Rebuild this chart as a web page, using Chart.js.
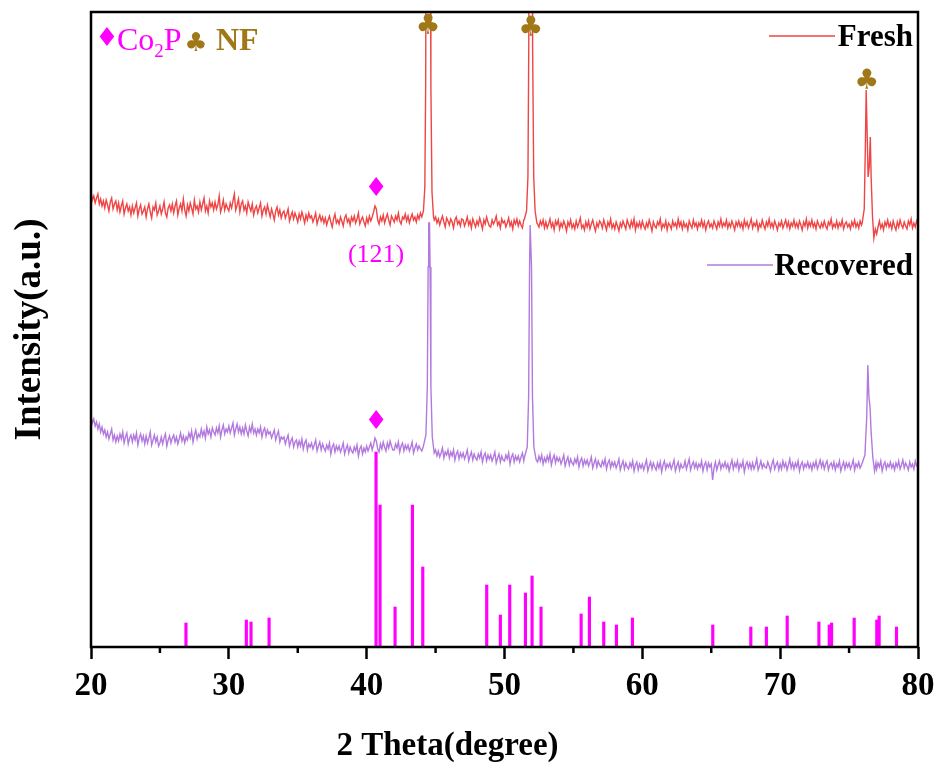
<!DOCTYPE html>
<html>
<head>
    <title>XRD Co2P</title>
    <script src="https://cdn.jsdelivr.net/npm/chart.js"></script>
    <style>
        body { margin: 0; background: #fff; }
    </style>
</head>
<body>
    <canvas id="xrd" width="941" height="767"></canvas>

    <script>
        // grid of the measured scans: 20..80 deg every 0.1 deg (one row per degree)
        var scanStart = 20;
        var scanStep = 0.1;

        var freshValues = [
            455, 447, 451, 444, 449, 453, 443, 448, 441, 446,
            439, 447, 442, 436, 445, 449, 438, 443, 446, 437,
            444, 435, 441, 446, 433, 439, 443, 436, 440, 432,
            441, 434, 439, 444, 431, 438, 442, 433, 436, 440,
            430, 438, 443, 435, 429, 440, 437, 444, 432, 436,
            441, 433, 438, 445, 434, 430, 439, 442, 436, 443,
            434, 441, 446, 432, 439, 443, 436, 448, 437, 431,
            442, 436, 444, 439, 433, 447, 438, 441, 435, 445,
            437, 443, 449, 436, 441, 434, 446, 440, 444, 437,
            445, 438, 442, 451, 435, 440, 447, 437, 443, 439,
            436, 444, 439, 446, 453, 437, 442, 448, 435, 443,
            446, 437, 441, 434, 445, 440, 436, 443, 432, 438,
            441, 434, 439, 444, 431, 437, 440, 433, 442, 436,
            430, 438, 433, 427, 436, 440, 432, 437, 429, 434,
            436, 429, 433, 438, 426, 431, 435, 428, 434, 430,
            425, 433, 428, 435, 430, 424, 432, 427, 434, 429,
            431, 425, 429, 434, 423, 428, 432, 426, 430, 424,
            429, 422, 427, 431, 425, 420, 428, 433, 424, 427,
            423, 430, 426, 421, 429, 432, 425, 428, 422, 430,
            426, 431, 424, 428, 434, 423, 427, 430, 425, 421,
            429, 424, 431, 426, 430, 435, 441, 438, 427, 423,
            430, 426, 432, 424, 429, 433, 427, 422, 431, 428,
            425, 431, 427, 434, 426, 423, 430, 428, 433, 426,
            431, 424, 429, 433, 427, 430, 425, 432, 428, 434,
            431, 433, 430, 429, 428, 430, 429, 428, 430, 427,
            430, 424, 428, 422, 427, 431, 425, 420, 429, 426,
            422, 428, 425, 419, 427, 430, 423, 426, 421, 428,
            427, 421, 425, 430, 422, 426, 419, 428, 424, 420,
            426, 422, 429, 424, 418, 427, 423, 430, 425, 421,
            420, 427, 423, 426, 431, 422, 425, 419, 428, 424,
            426, 420, 424, 429, 421, 425, 418, 427, 423, 428,
            421, 426, 422, 419, 427, 424, 428, 430, 426, 429,
            427, 425, 426, 424, 423, 420, 426, 422, 427, 419,
            425, 419, 423, 428, 420, 424, 417, 426, 422, 427,
            418, 424, 420, 426, 422, 416, 425, 421, 427, 419,
            423, 418, 426, 420, 424, 429, 419, 422, 417, 425,
            420, 426, 418, 423, 427, 421, 416, 424, 420, 426,
            424, 419, 427, 422, 417, 425, 421, 428, 419, 423,
            418, 425, 421, 416, 424, 420, 426, 422, 418, 427,
            423, 419, 426, 421, 428, 417, 424, 420, 425, 419,
            426, 421, 418, 424, 420, 427, 422, 416, 425, 421,
            419, 425, 422, 428, 418, 423, 420, 426, 417, 424,
            422, 418, 426, 421, 424, 419, 428, 421, 425, 418,
            425, 420, 423, 417, 426, 422, 419, 427, 421, 424,
            418, 424, 421, 427, 420, 425, 417, 423, 426, 420,
            423, 419, 426, 422, 418, 425, 421, 428, 420, 424,
            421, 427, 419, 424, 420, 426, 422, 417, 425, 421,
            426, 420, 424, 418, 427, 421, 425, 419, 423, 428,
            419, 424, 421, 426, 417, 423, 420, 427, 422, 418,
            425, 421, 428, 420, 424, 419, 426, 422, 417, 424,
            421, 426, 419, 423, 427, 420, 425, 418, 424, 421,
            427, 420, 424, 419, 426, 422, 417, 425, 421, 428,
            419, 425, 421, 427, 420, 424, 418, 426, 422, 419,
            424, 420, 426, 421, 418, 425, 422, 428, 419, 423,
            420, 426, 419, 424, 421, 427, 418, 423, 425, 420,
            423, 418, 425, 421, 427, 420, 424, 419, 426, 422,
            424, 425, 430, 440, 450, 460, 450, 430, 410, 418,
            413, 420, 426, 419, 423, 417, 425, 421, 427, 420,
            424, 418, 426, 421, 417, 425, 420, 427, 422, 419,
            425, 421, 418, 426, 422, 428, 419, 424, 420, 426,
            422
        ];

        var recoveredValues = [
            231, 224, 228, 221, 225, 218, 223, 215, 220, 213,
            217, 210, 215, 208, 213, 218, 207, 212, 205, 211,
            206, 213, 208, 215, 204, 210, 214, 203, 209, 212,
            205, 212, 207, 214, 202, 209, 213, 206, 211, 203,
            211, 204, 209, 215, 202, 207, 212, 205, 210, 201,
            204, 210, 203, 209, 213, 201, 207, 211, 204, 209,
            212, 205, 210, 203, 208, 214, 206, 211, 204, 210,
            207, 214, 209, 216, 205, 212, 217, 208, 213, 210,
            218, 211, 216, 209, 220, 213, 217, 210, 219, 215,
            212, 219, 214, 221, 210, 217, 222, 213, 218, 215,
            221, 214, 219, 224, 212, 218, 223, 215, 220, 213,
            219, 213, 222, 216, 211, 220, 215, 223, 214, 218,
            212, 218, 214, 220, 210, 216, 219, 211, 217, 213,
            215, 209, 213, 217, 207, 212, 216, 205, 210, 208,
            210, 203, 208, 212, 201, 206, 209, 200, 205, 207,
            200, 206, 201, 208, 198, 204, 207, 197, 203, 200,
            204, 198, 202, 207, 196, 201, 205, 197, 203, 199,
            196, 202, 198, 204, 193, 200, 203, 195, 201, 197,
            201, 195, 199, 204, 193, 198, 202, 194, 200, 196,
            194, 200, 196, 202, 191, 198, 201, 193, 199, 195,
            201, 196, 200, 204, 197, 202, 209, 206, 198, 195,
            203, 198, 205, 200, 196, 204, 199, 206, 201, 197,
            197, 203, 199, 205, 195, 201, 204, 196, 202, 198,
            202, 196, 200, 205, 194, 199, 203, 197, 201, 198,
            196, 201, 199, 200, 198, 199, 198, 199, 197, 195,
            197, 191, 196, 190, 194, 199, 189, 195, 192, 197,
            189, 195, 191, 197, 187, 193, 196, 188, 194, 190,
            194, 188, 192, 197, 186, 191, 195, 187, 193, 189,
            187, 193, 189, 195, 185, 191, 194, 186, 192, 188,
            192, 186, 190, 195, 184, 189, 193, 185, 191, 187,
            186, 192, 188, 194, 183, 190, 193, 185, 191, 187,
            191, 185, 190, 194, 186, 189, 190, 192, 195, 197,
            188, 189, 190, 188, 185, 191, 186, 192, 183, 189,
            185, 191, 186, 193, 182, 188, 192, 184, 190, 186,
            189, 183, 187, 192, 181, 186, 190, 182, 188, 184,
            182, 188, 184, 190, 180, 186, 189, 181, 187, 183,
            187, 181, 185, 190, 179, 184, 188, 180, 186, 182,
            180, 186, 182, 188, 178, 184, 187, 179, 185, 181,
            185, 179, 183, 188, 177, 182, 186, 178, 184, 180,
            178, 184, 180, 186, 176, 182, 185, 177, 183, 179,
            183, 177, 182, 187, 176, 181, 185, 178, 184, 180,
            177, 184, 179, 185, 175, 182, 186, 178, 183, 180,
            184, 178, 182, 187, 176, 181, 185, 177, 183, 179,
            180, 186, 178, 183, 188, 177, 182, 185, 179, 184,
            178, 183, 180, 186, 176, 182, 185, 177, 184, 180,
            183, 167, 179, 185, 177, 182, 186, 178, 183, 180,
            185, 179, 183, 176, 182, 187, 178, 184, 180, 186,
            177, 183, 180, 186, 175, 182, 185, 179, 184, 178,
            184, 178, 182, 188, 177, 181, 186, 179, 183, 180,
            179, 185, 181, 176, 183, 187, 178, 182, 185, 177,
            183, 178, 186, 180, 184, 177, 182, 188, 179, 184,
            178, 184, 180, 186, 176, 182, 185, 178, 183, 180,
            185, 179, 183, 177, 184, 180, 186, 178, 182, 187,
            180, 185, 178, 183, 186, 177, 182, 184, 179, 185,
            177, 183, 180, 186, 176, 181, 185, 178, 184, 180,
            184, 178, 182, 187, 177, 183, 180, 185, 179, 182,
            183, 185, 190, 200, 220, 240, 220, 200, 185, 182,
            178, 184, 180, 186, 176, 182, 185, 178, 183, 180,
            185, 179, 183, 177, 184, 180, 186, 178, 182, 187,
            179, 184, 181, 177, 185, 180, 183, 178, 186, 181,
            180
        ];

        // sharp reflections, [2theta, intensity]
        var freshPeak44 = [[44.0, 430], [44.12, 436], [44.22, 460], [44.28, 560], [44.33, 800],
                           [44.6, 800], [44.66, 560], [44.74, 455], [44.85, 430]];
        var freshPeak52 = [[51.45, 428], [51.6, 436], [51.7, 470], [51.76, 600], [51.8, 800],
                           [52.0, 800], [52.04, 600], [52.12, 470], [52.22, 436], [52.35, 424]];
        var freshPeak76 = [[75.95, 424], [76.1, 438], [76.18, 500], [76.24, 557], [76.3, 520],
                           [76.38, 470], [76.46, 480], [76.54, 510], [76.6, 470], [76.7, 430],
                           [76.8, 409], [76.9, 418]];

        var recPeak44 = [[44.1, 200], [44.3, 212], [44.4, 260], [44.46, 380], [44.5, 424],
                         [44.56, 424], [44.6, 380], [44.66, 260], [44.76, 210], [44.9, 194]];
        var recPeak52 = [[51.45, 190], [51.65, 200], [51.75, 250], [51.82, 380], [51.86, 422],
                         [51.92, 422], [51.96, 380], [52.03, 250], [52.13, 200], [52.3, 187]];
        var recPeak76 = [[75.95, 184], [76.15, 192], [76.28, 230], [76.36, 282], [76.44, 250],
                         [76.52, 240], [76.6, 215], [76.72, 190], [76.85, 176], [76.95, 184]];

        // Co2P standard card
        var cardAngles = [26.89, 31.27, 31.61, 32.92, 40.68, 40.97, 42.06, 43.32, 44.07, 48.71,
                          49.70, 50.38, 51.52, 52.00, 52.65, 55.56, 56.16, 57.20, 58.12, 59.28,
                          65.11, 67.87, 69.00, 70.51, 72.81, 73.56, 73.73, 75.37, 77.01, 77.18, 78.44];
        var cardHeights = [24, 27, 25, 29, 195, 142, 40, 142, 80, 62,
                           32, 62, 54, 71, 40, 33, 50, 25, 22, 29,
                           22, 20, 20, 31, 25, 22, 24, 29, 27, 31, 20];

        // peak markers
        var clubAngles = [44.45, 51.9, 76.29];
        var clubLevels = [620, 618, 565];
        var diamondAngles = [40.68, 40.68];
        var diamondLevels = [458, 225];
        var hklLabel = '(121)';
        var hklAngle = 40.68;
        var hklLevel = 392;

        var xTicks = [20, 30, 40, 50, 60, 70, 80];
        var minorTicks = [25, 35, 45, 55, 65, 75];

        var RED = '#ef4545';
        var PURPLE = '#b27ade';
        var MAGENTA = '#ff00ff';
        var BROWN = '#a07818';
        var SERIF = '"Liberation Serif", "Times New Roman", serif';
        var SYMBOL = '"DejaVu Sans", sans-serif';

        function buildSeries(values, peaks) {
            var pts = [];
            values.forEach(function(v, i) {
                var a = Math.round((scanStart + i * scanStep) * 100) / 100;
                var inPeak = peaks.some(function(p) {
                    return a >= p[0][0] && a <= p[p.length - 1][0];
                });
                if (!inPeak) pts.push({ x: a, y: v });
            });
            peaks.forEach(function(p) {
                p.forEach(function(q) { pts.push({ x: q[0], y: q[1] }); });
            });
            pts.sort(function(a, b) { return a.x - b.x; });
            return pts;
        }

        var freshData = buildSeries(freshValues, [freshPeak44, freshPeak52, freshPeak76]);
        var recoveredData = buildSeries(recoveredValues, [recPeak44, recPeak52, recPeak76]);
        var cardData = cardAngles.map(function(a, i) { return { x: a, y: cardHeights[i] }; });

        var decorations = {
            id: 'decorations',
            afterDraw: function(chart) {
                var c = chart.ctx;
                var area = chart.chartArea;
                var xs = chart.scales.x;
                var ys = chart.scales.y;
                c.save();

                // frame
                c.strokeStyle = '#000';
                c.lineWidth = 2.5;
                c.strokeRect(area.left, area.top, area.right - area.left, area.bottom - area.top);

                // minor ticks
                minorTicks.forEach(function(t) {
                    var px = xs.getPixelForValue(t);
                    c.beginPath();
                    c.moveTo(px, area.bottom);
                    c.lineTo(px, area.bottom + 6);
                    c.stroke();
                });

                c.textBaseline = 'middle';
                c.textAlign = 'center';

                // clubs over Ni foam peaks
                c.fillStyle = BROWN;
                c.font = '28px ' + SYMBOL;
                clubAngles.forEach(function(a, i) {
                    c.fillText('\u2663', xs.getPixelForValue(a), ys.getPixelForValue(clubLevels[i]));
                });

                // diamonds for Co2P
                c.fillStyle = MAGENTA;
                c.font = '26px ' + SYMBOL;
                diamondAngles.forEach(function(a, i) {
                    c.fillText('\u2666', xs.getPixelForValue(a), ys.getPixelForValue(diamondLevels[i]));
                });
                c.font = '26px ' + SERIF;
                c.fillText(hklLabel, xs.getPixelForValue(hklAngle), ys.getPixelForValue(hklLevel));

                // phase key, top left
                var kx = area.left + 16;
                var ky = area.top + 38;
                c.textAlign = 'center';
                c.font = '26px ' + SYMBOL;
                c.fillText('\u2666', kx, ky - 11);
                c.textAlign = 'left';
                c.textBaseline = 'alphabetic';
                c.font = '32px ' + SERIF;
                c.fillText('Co', kx + 10, ky);
                var w = c.measureText('Co').width;
                c.font = '19px ' + SERIF;
                c.fillText('2', kx + 10 + w, ky + 7);
                var w2 = c.measureText('2').width;
                c.font = '32px ' + SERIF;
                c.fillText('P', kx + 10 + w + w2, ky);
                c.fillStyle = BROWN;
                c.textAlign = 'center';
                c.textBaseline = 'middle';
                c.font = '26px ' + SYMBOL;
                c.fillText('\u2663', kx + 89, ky - 6);
                c.textAlign = 'left';
                c.textBaseline = 'alphabetic';
                c.font = 'bold 32px ' + SERIF;
                c.fillText('NF', kx + 109, ky);

                // legend
                var items = [
                    { ds: chart.data.datasets[1], y: area.top + 24, x0: area.right - 149, x1: area.right - 83 },
                    { ds: chart.data.datasets[2], y: area.top + 253, x0: area.right - 211, x1: area.right - 145 }
                ];
                items.forEach(function(it) {
                    c.strokeStyle = it.ds.borderColor;
                    c.lineWidth = 1.5;
                    c.beginPath();
                    c.moveTo(it.x0, it.y);
                    c.lineTo(it.x1, it.y);
                    c.stroke();
                    c.fillStyle = '#000';
                    c.textAlign = 'right';
                    c.textBaseline = 'middle';
                    c.font = 'bold 31px ' + SERIF;
                    c.fillText(it.ds.label, area.right - 5, it.y + 2);
                });

                // x title
                c.fillStyle = '#000';
                c.textAlign = 'center';
                c.textBaseline = 'middle';
                c.font = 'bold 33px ' + SERIF;
                c.fillText('2 Theta(degree)', (area.left + area.right) / 2 - 57, area.bottom + 99);

                c.restore();
            }
        };

        var ctx = document.getElementById('xrd');
        new Chart(ctx, {
            type: 'line',
            data: {
                datasets: [{
                    type: 'bar',
                    label: 'Co2P',
                    data: cardData,
                    backgroundColor: MAGENTA,
                    barThickness: 2.5,
                    order: 0
                }, {
                    label: 'Fresh',
                    data: freshData,
                    borderColor: RED,
                    borderWidth: 1.4,
                    pointRadius: 0,
                    tension: 0,
                    order: 2
                }, {
                    label: 'Recovered',
                    data: recoveredData,
                    borderColor: PURPLE,
                    borderWidth: 1.4,
                    pointRadius: 0,
                    tension: 0,
                    order: 1
                }]
            },
            options: {
                responsive: false,
                animation: false,
                layout: { padding: { top: 12, right: 23, left: 0, bottom: 0 } },
                plugins: {
                    legend: { display: false },
                    tooltip: { enabled: false }
                },
                scales: {
                    x: {
                        type: 'linear',
                        min: 20,
                        max: 80,
                        offset: false,
                        afterBuildTicks: function(scale) {
                            scale.ticks = xTicks.map(function(v) { return { value: v }; });
                        },
                        ticks: {
                            color: '#000',
                            padding: 8,
                            maxRotation: 0,
                            autoSkip: false,
                            font: { family: SERIF, size: 33, weight: 'bold' }
                        },
                        grid: {
                            offset: false,
                            drawOnChartArea: false,
                            tickLength: 12,
                            tickWidth: 2.5,
                            tickColor: '#000'
                        },
                        border: { display: false },
                        afterFit: function(scale) {
                            scale.height = 120;
                            scale.paddingLeft = 0;
                            scale.paddingRight = 0;
                        }
                    },
                    y: {
                        min: 0,
                        max: 635,
                        ticks: { display: false },
                        grid: { display: false },
                        border: { display: false },
                        title: {
                            display: true,
                            text: 'Intensity(a.u.)',
                            color: '#000',
                            font: { family: SERIF, size: 37, weight: 'bold' },
                            padding: { top: 8, bottom: 0 }
                        },
                        afterFit: function(scale) { scale.width = 91; }
                    }
                }
            },
            plugins: [decorations]
        });
    </script>
</body>
</html>
